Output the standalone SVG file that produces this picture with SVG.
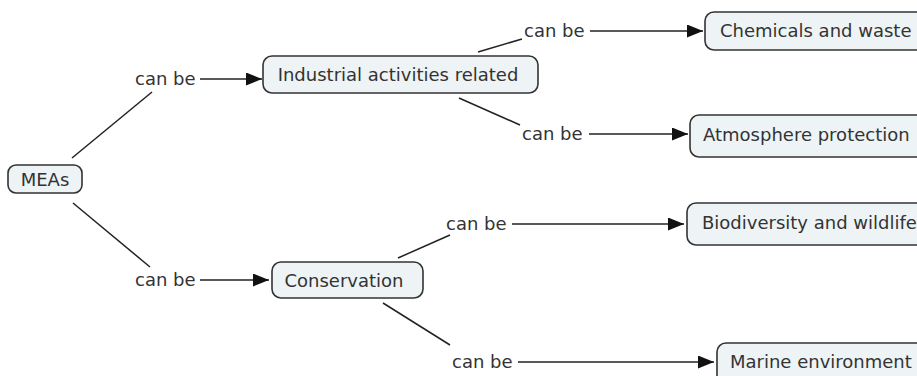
<svg xmlns="http://www.w3.org/2000/svg" width="917" height="376" viewBox="0 0 917 376">
<style>
.box{fill:#eef3f6;stroke:#333;stroke-width:1.6}
.t{font-family:"DejaVu Sans",Verdana,sans-serif;font-size:18px;fill:#333}
.l{stroke:#222;stroke-width:1.5;fill:none}
.a{stroke:#222;stroke-width:1.5;fill:none;marker-end:url(#ah)}
</style>
<defs>
<marker id="ah" viewBox="0 0 16 13" refX="16" refY="6.5" markerWidth="16" markerHeight="13" markerUnits="userSpaceOnUse" orient="auto">
<path d="M0,0 L16,6.5 L0,13 Z" fill="#111"/>
</marker>
</defs>
<rect width="917" height="376" fill="#fff"/>
<g id="connectors">
<line class="l" x1="72" y1="158" x2="152" y2="92"/>
<text class="t" x="135" y="85">can be</text>
<line class="a" x1="200" y1="79" x2="262" y2="79"/>
<line class="l" x1="73" y1="203" x2="150" y2="267"/>
<text class="t" x="135" y="286">can be</text>
<line class="a" x1="200" y1="280" x2="269" y2="280"/>
<line class="l" x1="478" y1="52" x2="522" y2="39"/>
<text class="t" x="524" y="37">can be</text>
<line class="a" x1="590" y1="31" x2="703" y2="31"/>
<line class="l" x1="459" y1="98" x2="520" y2="125"/>
<text class="t" x="522" y="140">can be</text>
<line class="a" x1="589" y1="134" x2="688" y2="134"/>
<line class="l" x1="398" y1="258" x2="450" y2="235"/>
<text class="t" x="446" y="230">can be</text>
<line class="a" x1="512" y1="224" x2="684" y2="224"/>
<line class="l" x1="383" y1="303" x2="450" y2="345"/>
<text class="t" x="452" y="368">can be</text>
<line class="a" x1="518" y1="362" x2="714" y2="362"/>
</g>
<g id="n-meas">
<rect class="box" x="8" y="165" width="74" height="28" rx="8"/>
<text class="t" x="45" y="186" text-anchor="middle">MEAs</text>
</g>
<g id="n-industrial">
<rect class="box" x="263" y="56" width="275" height="37" rx="9"/>
<text class="t" x="398" y="81" text-anchor="middle">Industrial activities related</text>
</g>
<g id="n-chemicals">
<rect class="box" x="705" y="12" width="240" height="38" rx="9"/>
<text class="t" x="720" y="37">Chemicals and waste</text>
</g>
<g id="n-atmosphere">
<rect class="box" x="690" y="115" width="250" height="42" rx="9"/>
<text class="t" x="703" y="141">Atmosphere protection</text>
</g>
<g id="n-conservation">
<rect class="box" x="272" y="262" width="151" height="36" rx="9"/>
<text class="t" x="344" y="287" text-anchor="middle">Conservation</text>
</g>
<g id="n-biodiversity">
<rect class="box" x="687" y="203" width="250" height="42" rx="9"/>
<text class="t" x="702" y="229">Biodiversity and wildlife</text>
</g>
<g id="n-marine">
<rect class="box" x="717" y="343" width="230" height="42" rx="9"/>
<text class="t" x="730" y="368">Marine environment</text>
</g>
</svg>
